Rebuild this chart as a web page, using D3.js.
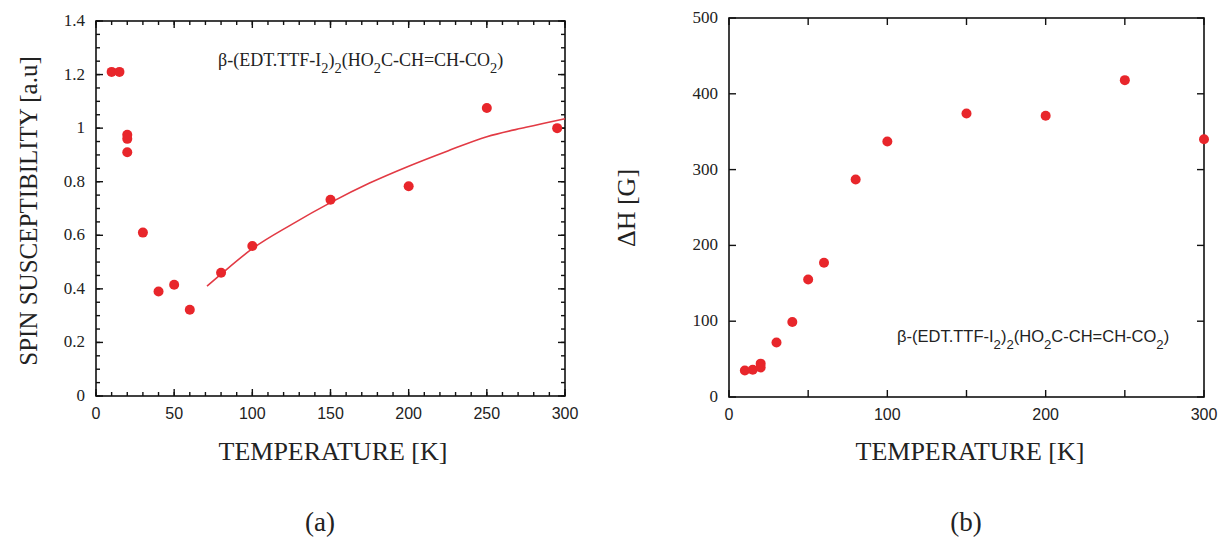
<!DOCTYPE html>
<html><head><meta charset="utf-8">
<script src="https://cdn.jsdelivr.net/npm/d3@7/dist/d3.min.js"></script>
<style>body{margin:0;background:#fff}svg{display:block}</style>
</head><body>
<svg id="c" width="1218" height="542"></svg>
<script>
// ---- data: panel (a) spin susceptibility ----
const tempA = [10, 15, 20, 20, 20, 30, 40, 50, 60, 80, 100, 150, 200, 250, 295];
const chiA  = [1.21, 1.21, 0.975, 0.96, 0.91, 0.61, 0.39, 0.415, 0.322, 0.46, 0.56, 0.733, 0.783, 1.075, 1.0];
const fitT  = [71, 80, 100, 125, 150, 175, 200, 225, 250, 275, 300];
const fitChi= [0.41, 0.455, 0.55, 0.64, 0.722, 0.795, 0.858, 0.915, 0.968, 1.003, 1.035];
const xTicksA = [0, 50, 100, 150, 200, 250, 300];
const yTicksA = [0, 0.2, 0.4, 0.6, 0.8, 1, 1.2, 1.4];
// ---- data: panel (b) linewidth ----
const tempB = [10, 15, 20, 20, 30, 40, 50, 60, 80, 100, 150, 200, 250, 300];
const dHB   = [35, 36, 44, 39, 72, 99, 155, 177, 287, 337, 374, 371, 418, 340];
const xTicksB = [0, 50, 100, 150, 200, 250, 300];
const xLabelsB = [0, 100, 200, 300];
const yTicksB = [0, 100, 200, 300, 400, 500];

const RED = "#e8262b";
const svg = d3.select("#c");
svg.append("rect").attr("width",1218).attr("height",542).attr("fill","#fff");
const serif = "Liberation Serif";
const sans = "Liberation Sans";

function frame(g, x, y){
  const [x0,x1]=x.range(), [y0,y1]=y.range();
  g.append("rect").attr("x",x0).attr("y",y1).attr("width",x1-x0).attr("height",y0-y1)
   .attr("fill","none").attr("stroke","#111").attr("stroke-width",1.6);
}
function ticks(g, x, y, xs, ys, len){
  const [x0,x1]=x.range(), [y0,y1]=y.range();
  xs.forEach(v=>{
    g.append("line").attr("x1",x(v)).attr("x2",x(v)).attr("y1",y0).attr("y2",y0-len).attr("stroke","#111").attr("stroke-width",1.4);
    g.append("line").attr("x1",x(v)).attr("x2",x(v)).attr("y1",y1).attr("y2",y1+len).attr("stroke","#111").attr("stroke-width",1.4);
  });
  ys.forEach(v=>{
    g.append("line").attr("y1",y(v)).attr("y2",y(v)).attr("x1",x0).attr("x2",x0+len).attr("stroke","#111").attr("stroke-width",1.4);
    g.append("line").attr("y1",y(v)).attr("y2",y(v)).attr("x1",x1).attr("x2",x1-len).attr("stroke","#111").attr("stroke-width",1.4);
  });
}
function formula(g, x, y, family, size){
  const t = g.append("text").attr("x",x).attr("y",y).attr("font-family",family).attr("font-size",size).attr("fill","#222");
  const parts = [["β-(EDT.TTF-I",0],["2",1],[")",0],["2",1],["(HO",0],["2",1],["C-CH=CH-CO",0],["2",1],[")",0]];
  let prev=0;
  parts.forEach(([s,sub])=>{
    const dy = (sub-prev)*size*0.4;
    t.append("tspan").attr("dy",dy).attr("font-size", sub? size*0.8 : size).text(s);
    prev=sub;
  });
}

// ---------- Panel (a) ----------
const xA = d3.scaleLinear().domain([0,300]).range([96,565]);
const yA = d3.scaleLinear().domain([0,1.4]).range([396,21]);
const gA = svg.append("g");
frame(gA, xA, yA);
ticks(gA, xA, yA, d3.range(0,301,10), d3.range(0,1.401,0.05).map(v=>+v.toFixed(2)), 4);
ticks(gA, xA, yA, xTicksA, yTicksA, 7);
gA.selectAll(".xl").data(xTicksA).join("text").attr("x",d=>xA(d)).attr("y",419)
  .attr("text-anchor","middle").attr("font-family",sans).attr("font-size",16).attr("fill","#222").text(d=>d);
gA.selectAll(".yl").data(yTicksA).join("text").attr("x",85).attr("y",d=>yA(d)+5)
  .attr("text-anchor","end").attr("font-family",serif).attr("font-size",17).attr("fill","#222").text(d=>d3.format("~g")(d));
gA.append("text").attr("transform","translate(37,211) rotate(-90)").attr("text-anchor","middle")
  .attr("font-family",serif).attr("font-size",25).attr("fill","#222").text("SPIN SUSCEPTIBILITY [a.u]");
gA.append("text").attr("x",333).attr("y",460).attr("text-anchor","middle")
  .attr("font-family",serif).attr("font-size",26).attr("fill","#222").text("TEMPERATURE [K]");
gA.append("text").attr("x",320).attr("y",531).attr("text-anchor","middle")
  .attr("font-family",serif).attr("font-size",27).attr("fill","#222").text("(a)");
formula(gA, 218, 66, serif, 18);
const line = d3.line().x(d=>xA(d[0])).y(d=>yA(d[1])).curve(d3.curveMonotoneX);
gA.append("path").attr("d",line(fitT.map((t,i)=>[t,fitChi[i]]))).attr("fill","none").attr("stroke","#e23a44").attr("stroke-width",1.6);
gA.selectAll(".pa").data(tempA.map((t,i)=>[t,chiA[i]])).join("circle")
  .attr("cx",d=>xA(d[0])).attr("cy",d=>yA(d[1])).attr("r",5).attr("fill",RED);

// ---------- Panel (b) ----------
const xB = d3.scaleLinear().domain([0,300]).range([729,1204]);
const yB = d3.scaleLinear().domain([0,500]).range([397,18]);
const gB = svg.append("g");
frame(gB, xB, yB);
ticks(gB, xB, yB, xTicksB, yTicksB, 7);
gB.selectAll(".xl").data(xLabelsB).join("text").attr("x",d=>xB(d)).attr("y",420)
  .attr("text-anchor","middle").attr("font-family",sans).attr("font-size",16).attr("fill","#222").text(d=>d);
gB.selectAll(".yl").data(yTicksB).join("text").attr("x",718).attr("y",d=>yB(d)+5)
  .attr("text-anchor","end").attr("font-family",serif).attr("font-size",17).attr("fill","#222").text(d=>d);
gB.append("text").attr("transform","translate(635,208) rotate(-90)").attr("text-anchor","middle")
  .attr("font-family",serif).attr("font-size",26).attr("fill","#222").text("ΔH [G]");
gB.append("text").attr("x",970).attr("y",460).attr("text-anchor","middle")
  .attr("font-family",serif).attr("font-size",26).attr("fill","#222").text("TEMPERATURE [K]");
gB.append("text").attr("x",966).attr("y",531).attr("text-anchor","middle")
  .attr("font-family",serif).attr("font-size",27).attr("fill","#222").text("(b)");
formula(gB, 897, 342, sans, 16.5);
gB.selectAll(".pb").data(tempB.map((t,i)=>[t,dHB[i]])).join("circle")
  .attr("cx",d=>xB(d[0])).attr("cy",d=>yB(d[1])).attr("r",5).attr("fill",RED);
</script>
</body></html>
